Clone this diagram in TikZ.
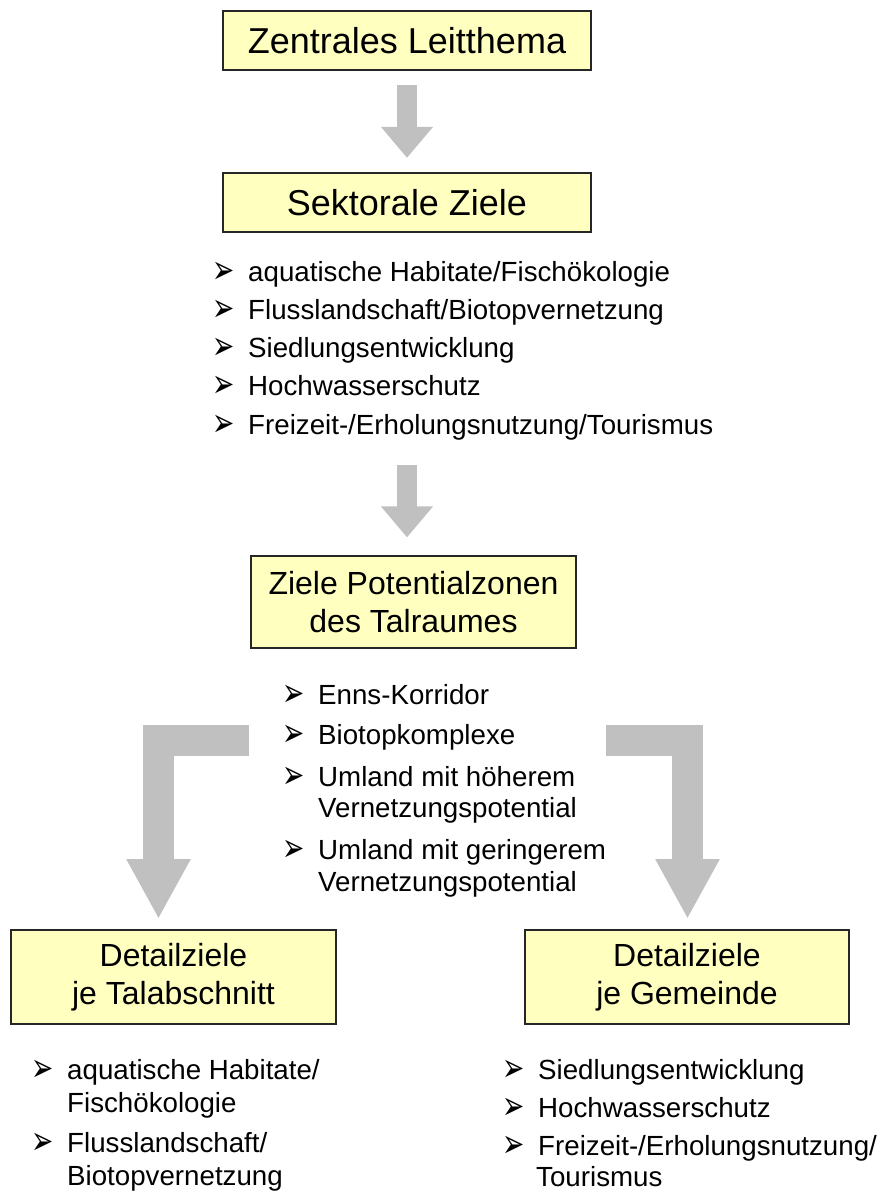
\documentclass[tikz,border=0pt]{standalone}
\usepackage{fontspec}
\setmainfont{Liberation Sans}
\newfontfamily\dejavu{DejaVu Sans}
\usetikzlibrary{arrows.meta}
\definecolor{boxfill}{HTML}{FFFFC0}
\definecolor{arrowgray}{HTML}{C0C0C0}
\newcommand{\bulglyph}{\raisebox{-2pt}{\scalebox{1.4}[2.1]{\dejavu\fontsize{19}{19}\selectfont ➢}}}
\tikzset{
  box/.style={draw=black!85, line width=1.2pt, fill=boxfill, align=center, inner sep=0pt},
  bigtxt/.style={font=\fontsize{36}{43}\selectfont},
  midtxt/.style={font=\fontsize{32}{38}\selectfont},
  item/.style={anchor=base west, inner sep=0pt, font=\fontsize{27.7}{33}\selectfont},
  bul/.style={anchor=base west, inner sep=0pt, xshift=-36pt},
  blockarrow/.style={draw=arrowgray, line width=20pt, -{Triangle[width=50pt,length=31pt]}},
  bentarrow/.style={draw=arrowgray, line width=31pt, line join=miter, -{Triangle[width=60pt,length=60pt]}},
}
\begin{document}
\begin{tikzpicture}[x=1pt,y=-1pt]
\useasboundingbox[fill=white] (0,0) rectangle (882,1194);

% boxes
\node[box, bigtxt, minimum width=368pt, minimum height=59pt] (b1) at (407,40.5) {Zentrales Leitthema};
\node[box, bigtxt, minimum width=368pt, minimum height=59pt] (b2) at (407,202.5) {Sektorale Ziele};
\node[box, midtxt, minimum width=325pt, minimum height=92pt] (b3) at (413.5,602) {Ziele Potentialzonen\\des Talraumes};
\node[box, midtxt, minimum width=325pt, minimum height=94pt] (b4) at (173.5,977) {Detailziele\\je Talabschnitt};
\node[box, midtxt, minimum width=324pt, minimum height=94pt] (b5) at (687,977) {Detailziele\\je Gemeinde};

% arrows
\draw[blockarrow, shorten <=14.5pt, shorten >=14.5pt] (b1.south) -- (b2.north);
\coordinate (a2s) at (407,465);
\draw[blockarrow, shorten >=18pt] (a2s) -- (a2s |- b3.north);
\coordinate (lstart) at (249,740);
\coordinate (ltip) at (158.5,919);
\draw[bentarrow] (lstart) -| (ltip);
\coordinate (rstart) at (606,740);
\coordinate (rtip) at (687.5,919);
\draw[bentarrow] (rstart) -| (rtip);

% list 1
\foreach \y/\t [count=\i] in {281/{aquatische Habitate/Fischökologie},319.3/{Flusslandschaft/Biotopvernetzung},357.6/{Siedlungsentwicklung},395.9/{Hochwasserschutz},434.2/{Freizeit-/Erholungsnutzung/Tourismus}}{
  \node[bul] (lb\i) at (248,\y) {\bulglyph};
  \node[item] (lt\i) at (248,\y) {\t};
}

% list 2
\node[bul] (mb1) at (318,704) {\bulglyph};
\node[item] (mt1) at (318,704) {Enns-Korridor};
\node[bul] (mb2) at (318,744) {\bulglyph};
\node[item] (mt2) at (318,744) {Biotopkomplexe};
\node[bul] (mb3) at (318,786) {\bulglyph};
\node[item] (mt3) at (318,786) {Umland mit höherem};
\node[item] (mt3b) at (318,817) {Vernetzungspotential};
\node[bul] (mb4) at (318,859) {\bulglyph};
\node[item] (mt4) at (318,859) {Umland mit geringerem};
\node[item] (mt4b) at (318,891) {Vernetzungspotential};

% list 3 (left bottom)
\node[bul] (pb1) at (67,1079) {\bulglyph};
\node[item] (pt1) at (67,1079) {aquatische Habitate/};
\node[item] (pt1b) at (67,1112) {Fischökologie};
\node[bul] (pb2) at (67,1152) {\bulglyph};
\node[item] (pt2) at (67,1152) {Flusslandschaft/};
\node[item] (pt2b) at (67,1185) {Biotopvernetzung};

% list 4 (right bottom)
\node[bul] (qb1) at (538,1079) {\bulglyph};
\node[item] (qt1) at (538,1079) {Siedlungsentwicklung};
\node[bul] (qb2) at (538,1117) {\bulglyph};
\node[item] (qt2) at (538,1117) {Hochwasserschutz};
\node[bul] (qb3) at (538,1155) {\bulglyph};
\node[item] (qt3) at (538,1155) {Freizeit-/Erholungsnutzung/};
\node[item] (qt3b) at (536,1186) {Tourismus};
\end{tikzpicture}
\end{document}
